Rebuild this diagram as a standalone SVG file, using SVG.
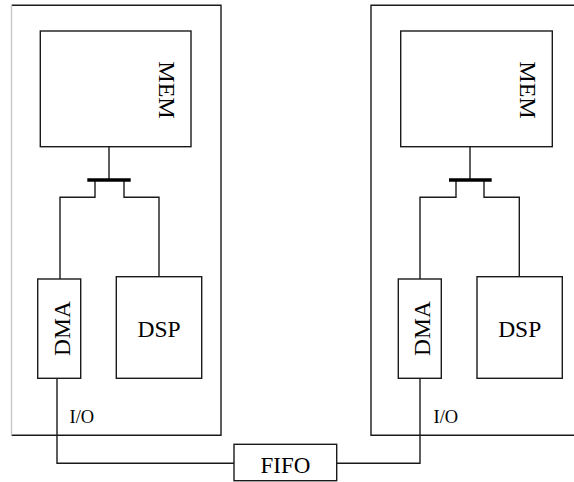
<svg xmlns="http://www.w3.org/2000/svg" width="574" height="482" viewBox="0 0 574 482">
<style>
.box{fill:#fff;stroke:#1a1a1a;stroke-width:1.4}
.ln{fill:none;stroke:#1a1a1a;stroke-width:1.4}
.bar{fill:none;stroke:#000;stroke-width:3.6}
.t{font-family:"Liberation Serif","Times New Roman",serif;fill:#000}
</style>
<rect width="574" height="482" fill="#fff"/>
<g id="boardL">
<path d="M11.5 5.3H221V435.3H11.5" class="ln" stroke="#333"/>
<line x1="11.5" y1="5.3" x2="11.5" y2="435.3" stroke="#c8c8c8" stroke-width="1.4"/>
</g>
<g id="boardR">
<path d="M580 5.3H371V435.3H580" class="ln"/>
</g>
<g id="connectors">
<path class="ln" d="M109 146.7V180M95 180V197.3H60V279M124 180V197.3H159V276.7"/>
<path class="bar" d="M87.3 180H130.7"/>
<path class="ln" d="M470 146.7V180M456 180V197.3H420V279M484 180V197.3H519.3V276.7"/>
<path class="bar" d="M449 180H491.7"/>
<path class="ln" d="M57 378.3V463.3H234M336.7 463.3H420V378.3"/>
</g>
<g id="memL"><rect class="box" x="40.3" y="31" width="150.7" height="115.7"/>
<text class="t" font-size="24" text-anchor="middle" transform="translate(158.5 90) rotate(90)">MEM</text></g>
<g id="dmaL"><rect class="box" x="37.7" y="279" width="43" height="99.3"/>
<text class="t" font-size="23.5" text-anchor="middle" transform="translate(69.5 328.5) rotate(-90)">DMA</text></g>
<g id="dspL"><rect class="box" x="116.3" y="276.7" width="85.4" height="101.6"/>
<text class="t" x="159" y="336.7" font-size="23.5" text-anchor="middle">DSP</text></g>
<g id="memR"><rect class="box" x="400.7" y="31" width="151.6" height="115.7"/>
<text class="t" font-size="24" text-anchor="middle" transform="translate(520 90) rotate(90)">MEM</text></g>
<g id="dmaR"><rect class="box" x="398.3" y="279" width="43" height="99.3"/>
<text class="t" font-size="23.5" text-anchor="middle" transform="translate(430 328.5) rotate(-90)">DMA</text></g>
<g id="dspR"><rect class="box" x="477" y="276.7" width="85.3" height="101.6"/>
<text class="t" x="519.7" y="336.7" font-size="23.5" text-anchor="middle">DSP</text></g>
<g id="ioL"><text class="t" x="69.5" y="422.7" font-size="18.5">I/O</text></g>
<g id="ioR"><text class="t" x="433.5" y="422.7" font-size="18.5">I/O</text></g>
<g id="fifo"><rect class="box" x="234" y="444.3" width="102.7" height="36.4"/>
<text class="t" x="285.5" y="472.7" font-size="23" text-anchor="middle">FIFO</text></g>
</svg>
